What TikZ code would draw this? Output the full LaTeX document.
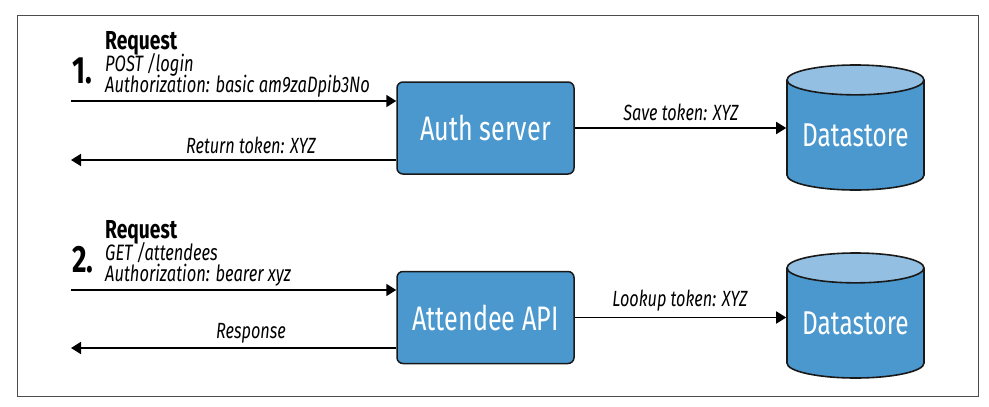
\documentclass[tikz,border=0pt]{standalone}
\usepackage{fontspec}
\setmainfont[FakeStretch=0.74]{Fira Sans}
\usepackage{tikz}
\usetikzlibrary{positioning, shapes.geometric, arrows.meta}
\definecolor{boxblue}{HTML}{4A98CE}
\definecolor{topblue}{HTML}{93C0E2}
\tikzset{
  server/.style={rectangle,rounded corners=6pt,draw=black!90,line width=1.5pt,fill=boxblue,text=white,font=\fontsize{34}{34}\selectfont,minimum width=177pt,minimum height=92pt},
  store/.style={cylinder,shape border rotate=90,aspect=0.28,anchor=shape center,draw=black!90,line width=1.6pt,cylinder uses custom fill,cylinder body fill=boxblue,cylinder end fill=topblue,text=white,font=\fontsize{33}{33}\selectfont,minimum width=137pt,minimum height=125pt,inner sep=0pt},
  flow/.style={line width=1.7pt,-{Triangle[length=10pt,width=12pt]}},
  flowlabel/.style={font=\fontsize{22}{22}\selectfont\itshape,inner sep=0pt},
  reqhead/.style={font=\fontsize{26}{26}\selectfont\bfseries,inner sep=0pt,anchor=base west},
  reqline/.style={font=\fontsize{22.3}{22.3}\selectfont\itshape,inner sep=0pt,anchor=base west},
  stepnum/.style={font=\fontsize{38}{38}\selectfont\bfseries,inner sep=0pt,anchor=base west}
}
\begin{document}
\begin{tikzpicture}[x=1pt,y=-1pt]
\useasboundingbox (0,0) rectangle (989,407);
\draw[black!70,line width=0.9pt] (17,15) rectangle (978,396);
% servers and datastores
\node[server] (auth) at (485.5,128) {Auth server};
\node[server] (attendee) at (485.5,317.5) {Attendee API};
\node[store] (store1) at (855.5,127.5) {Datastore};
\node[store] (store2) at (855.5,315.5) {Datastore};
% free ends on the left
\coordinate (in1) at (71,101);
\coordinate (out1) at (71,160);
\coordinate (in2) at (71,290);
\coordinate (out2) at (71,348);
% arrows
\draw[flow] (in1) -- (in1 -| auth.west);
\draw[flow] (out1 -| auth.west) -- (out1);
\draw[flow] (auth.east) -- (auth.east -| store1.west);
\draw[flow] (in2) -- (in2 -| attendee.west);
\draw[flow] (out2 -| attendee.west) -- (out2);
\draw[flow] (attendee.east) -- (attendee.east -| store2.west);
% labels
\foreach \name/\num/\yy/\first/\second in {a/1./0/{POST /login}/{Authorization: basic am9zaDpib3No},b/2./189/{GET /attendees}/{Authorization: bearer xyz}} {
  \node[stepnum] (num\name) at (72,83+\yy) {\num};
  \node[reqhead] (head\name) at (105,49+\yy) {Request};
  \node[reqline] (first\name) at (105,71+\yy) {\first};
  \node[reqline] (second\name) at (105,92+\yy) {\second};
}
\node[flowlabel] (ret) at (251,145) {Return token: XYZ};
\node[flowlabel] (resp) at (251,333) {Response};
\node[flowlabel] (save) at (681,112) {Save token: XYZ};
\node[flowlabel] (look) at (680,301) {Lookup token: XYZ};
\end{tikzpicture}
\end{document}
